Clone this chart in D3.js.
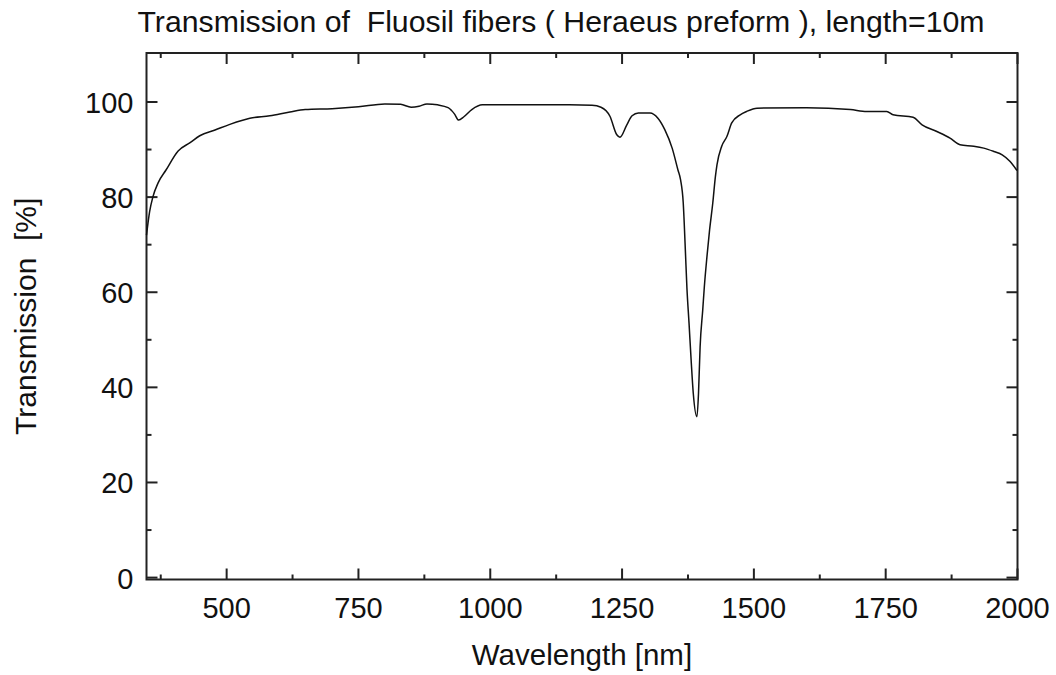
<!DOCTYPE html>
<html lang="en">
<head>
  <meta charset="UTF-8">
  <title>Transmission of Fluosil fibers</title>
  <style>
    body { margin: 0; background: #fff; }
    text { font-family: 'Liberation Sans', Arial, sans-serif; fill: #111; white-space: pre; }
  </style>
  <script src="https://d3js.org/d3.v7.min.js"></script>
</head>
<body>
<script>
  // wavelength [nm] and transmission [%]
  const wavelength = [348, 354, 360, 370, 385, 408, 430, 449, 478, 506, 544, 582, 620, 649, 700, 750, 800, 830,
    850, 865, 880, 900, 920, 932, 940, 950, 965, 985, 1050, 1150, 1193, 1210, 1227, 1240, 1246, 1259, 1269, 1281,
    1303, 1318, 1331, 1345, 1356, 1361, 1366, 1370, 1373, 1377, 1381, 1385, 1392, 1395, 1398, 1403, 1406, 1411,
    1416, 1422, 1427, 1430, 1439, 1449, 1458, 1474, 1486, 1506, 1600, 1683, 1714, 1752, 1764, 1802, 1819, 1847,
    1872, 1891, 1917, 1936, 1955, 1971, 1986, 1999];
  const transmission = [72, 77, 80, 83, 85.7, 89.7, 91.4, 92.9, 94.1, 95.3, 96.6, 97.1, 97.9, 98.4, 98.6, 99, 99.6, 99.5,
    98.9, 99.1, 99.6, 99.4, 98.8, 97.5, 96.2, 96.9, 98.4, 99.4, 99.4, 99.4, 99.3, 98.9, 97, 93.1, 92.6, 95.2, 97.1, 97.7,
    97.7, 96.6, 94.2, 90.3, 85.7, 83.6, 78.8, 68.9, 60.9, 53.5, 45.7, 38.8, 33.8, 38.8, 48.5, 56.3, 61.1, 67.5,
    73.1, 78.7, 84.3, 86.8, 90.7, 92.8, 95.6, 97.3, 98, 98.7, 98.8, 98.4, 98, 98, 97.3, 96.8, 95.2, 93.8,
    92.4, 91, 90.7, 90.3, 89.6, 88.9, 87.5, 85.6];
  const xTicks = [500, 750, 1000, 1250, 1500, 1750, 2000];
  const yTicks = [0, 20, 40, 60, 80, 100];
  const title = "Transmission of  Fluosil fibers ( Heraeus preform ), length=10m";

  const width = 1056, height = 675;
  const margin = {top: 53, right: 38.5, bottom: 95.5, left: 146.5};

  const svg = d3.select("body").append("svg")
    .attr("width", width)
    .attr("height", height);

  const x = d3.scaleLinear().domain([348, 2000]).range([margin.left, width - margin.right]);
  const y = d3.scaleLinear().domain([-0.4, 110.3]).range([height - margin.bottom, margin.top]);

  const x0 = x.range()[0], x1 = x.range()[1], y0 = y.range()[0], y1 = y.range()[1];

  // minor ticks at half steps
  const xMinor = d3.range(375, 2000, 250);
  const yMinor = d3.range(10, 110, 20);

  const ticks = svg.append("g").attr("stroke", "#222").attr("stroke-width", 2);
  xTicks.forEach(v => {
    ticks.append("line").attr("x1", x(v)).attr("x2", x(v)).attr("y1", y0).attr("y2", y0 - 11);
    ticks.append("line").attr("x1", x(v)).attr("x2", x(v)).attr("y1", y1).attr("y2", y1 + 11);
  });
  xMinor.forEach(v => {
    ticks.append("line").attr("x1", x(v)).attr("x2", x(v)).attr("y1", y0).attr("y2", y0 - 5);
    ticks.append("line").attr("x1", x(v)).attr("x2", x(v)).attr("y1", y1).attr("y2", y1 + 5);
  });
  yTicks.forEach(v => {
    ticks.append("line").attr("x1", x0).attr("x2", x0 + 11).attr("y1", y(v)).attr("y2", y(v));
    ticks.append("line").attr("x1", x1).attr("x2", x1 - 11).attr("y1", y(v)).attr("y2", y(v));
  });
  yMinor.forEach(v => {
    ticks.append("line").attr("x1", x0).attr("x2", x0 + 5).attr("y1", y(v)).attr("y2", y(v));
    ticks.append("line").attr("x1", x1).attr("x2", x1 - 5).attr("y1", y(v)).attr("y2", y(v));
  });

  // frame
  svg.append("rect")
    .attr("x", x0).attr("y", y1)
    .attr("width", x1 - x0).attr("height", y0 - y1)
    .attr("fill", "none").attr("stroke", "#222").attr("stroke-width", 2);

  // tick labels
  svg.append("g").selectAll("text").data(xTicks).enter().append("text")
    .attr("x", d => x(d)).attr("y", y0 + 38)
    .attr("text-anchor", "middle")
    .attr("font-size", 29)
    .text(d => d);

  svg.append("g").selectAll("text").data(yTicks).enter().append("text")
    .attr("x", x0 - 13).attr("y", d => y(d) + 11)
    .attr("text-anchor", "end")
    .attr("font-size", 29)
    .text(d => d);

  // curve
  const pts = wavelength.map((w, i) => [w, transmission[i]]);
  svg.append("path")
    .datum(pts)
    .attr("fill", "none")
    .attr("stroke", "#111")
    .attr("stroke-width", 1.5)
    .attr("d", d3.line().x(d => x(d[0])).y(d => y(d[1])).curve(d3.curveMonotoneX));

  // titles
  svg.append("text")
    .attr("x", 561).attr("y", 32)
    .attr("text-anchor", "middle")
    .attr("font-size", 29)
    .attr("textLength", 847)
    .attr("lengthAdjust", "spacingAndGlyphs")
    .text(title);

  svg.append("text")
    .attr("x", (x0 + x1) / 2).attr("y", 665)
    .attr("text-anchor", "middle")
    .attr("font-size", 29.5)
    .text("Wavelength [nm]");

  svg.append("text")
    .attr("transform", "translate(36," + ((y0 + y1) / 2) + ") rotate(-90)")
    .attr("text-anchor", "middle")
    .attr("font-size", 30)
    .text("Transmission  [%]");
</script>
</body>
</html>
